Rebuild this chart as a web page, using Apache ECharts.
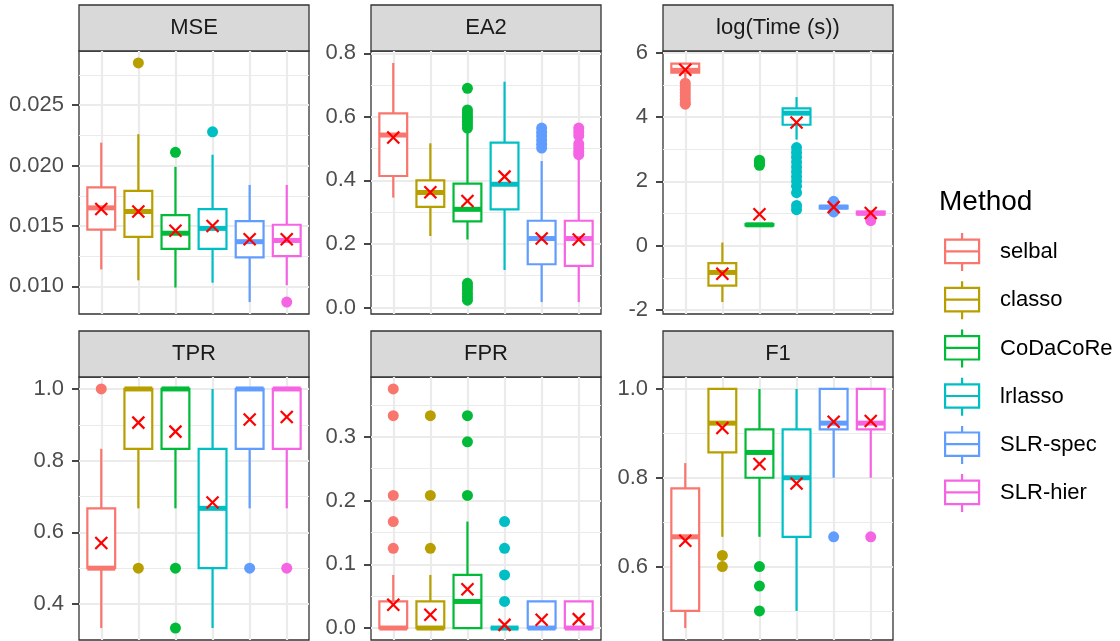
<!DOCTYPE html>
<html>
<head>
<meta charset="utf-8">
<script src="https://cdn.jsdelivr.net/npm/echarts@6/dist/echarts.min.js"></script>
<style>
html, body { margin: 0; padding: 0; background: #fff; }
#main { width: 1120px; height: 641px; }
</style>
</head>
<body>
<div id="main"></div>
<script>
const methods = ['selbal', 'classo', 'CoDaCoRe', 'lrlasso', 'SLR-spec', 'SLR-hier'];
const colors = ['#F8766D', '#B79F00', '#00BA38', '#00BFC4', '#619CFF', '#F564E3'];
const metrics = ['MSE', 'EA2', 'log(Time (s))', 'TPR', 'FPR', 'F1'];

// boxes: [lower whisker, Q1, median, Q3, upper whisker], one per method
const mseBox = [
  [0.0114, 0.0147, 0.0165, 0.0182, 0.0219],
  [0.0105, 0.0141, 0.0162, 0.0179, 0.0226],
  [0.0099, 0.0131, 0.0144, 0.0159, 0.0199],
  [0.0103, 0.0131, 0.0148, 0.0164, 0.0209],
  [0.0087, 0.0124, 0.0137, 0.0154, 0.0184],
  [0.0101, 0.0125, 0.0138, 0.0151, 0.0184]
];
const mseMean = [0.0164, 0.0162, 0.0146, 0.0150, 0.0139, 0.0139];
const mseOut = [[], [0.0285], [0.0211], [0.0228], [], [0.0087]];
const mseTicks = [0.010, 0.015, 0.020, 0.025];
const mseMinor = [0.0125, 0.0175, 0.0225, 0.0275];

const ea2Box = [
  [0.346, 0.414, 0.543, 0.611, 0.770],
  [0.225, 0.317, 0.362, 0.400, 0.517],
  [0.214, 0.271, 0.309, 0.390, 0.555],
  [0.118, 0.309, 0.388, 0.519, 0.711],
  [0.017, 0.136, 0.217, 0.273, 0.461],
  [0.017, 0.131, 0.217, 0.273, 0.466]
];
const ea2Mean = [0.535, 0.363, 0.335, 0.412, 0.217, 0.214];
const ea2Out = [
  [], [],
  [0.690, 0.622, 0.612, 0.603, 0.595, 0.585, 0.575, 0.565, 0.076, 0.066, 0.056, 0.044, 0.033, 0.023],
  [],
  [0.565, 0.552, 0.540, 0.527, 0.514, 0.502],
  [0.565, 0.553, 0.541, 0.515, 0.503, 0.491, 0.481]
];
const ea2Ticks = [0.0, 0.2, 0.4, 0.6, 0.8];
const ea2Minor = [0.1, 0.3, 0.5, 0.7];

const timeBox = [
  [5.20, 5.38, 5.45, 5.66, 5.68],
  [-1.75, -1.24, -0.83, -0.54, 0.10],
  [0.60, 0.63, 0.65, 0.67, 0.70],
  [3.30, 3.76, 4.12, 4.27, 4.62],
  [1.12, 1.16, 1.20, 1.24, 1.28],
  [0.95, 0.97, 1.01, 1.06, 1.10]
];
const timeMean = [5.47, -0.87, 0.98, 3.83, 1.20, 1.02];
const timeOut = [
  [5.05, 4.95, 4.85, 4.75, 4.65, 4.55, 4.45, 4.40],
  [],
  [2.66, 2.60, 2.55, 2.50],
  [3.05, 2.90, 2.75, 2.60, 2.45, 2.30, 2.15, 2.00, 1.85, 1.65, 1.25, 1.12],
  [1.38, 1.05],
  [0.78]
];
const timeTicks = [-2, 0, 2, 4, 6];
const timeMinor = [-1, 1, 3, 5];

const tprBox = [
  [0.333, 0.5, 0.5, 0.667, 0.833],
  [0.667, 0.833, 1.0, 1.0, 1.0],
  [0.667, 0.833, 1.0, 1.0, 1.0],
  [0.333, 0.5, 0.667, 0.833, 1.0],
  [0.667, 0.833, 1.0, 1.0, 1.0],
  [0.667, 0.833, 1.0, 1.0, 1.0]
];
const tprMean = [0.570, 0.906, 0.881, 0.683, 0.915, 0.922];
const tprOut = [[1.0], [0.5], [0.5, 0.333], [], [0.5], [0.5]];
const tprTicks = [0.4, 0.6, 0.8, 1.0];
const tprMinor = [0.5, 0.7, 0.9];

const fprBox = [
  [0, 0, 0, 0.0417, 0.0833],
  [0, 0, 0, 0.0417, 0.0833],
  [0, 0, 0.0417, 0.0833, 0.167],
  [0, 0, 0, 0, 0],
  [0, 0, 0, 0.0417, 0.0417],
  [0, 0, 0, 0.0417, 0.0417]
];
const fprMean = [0.0365, 0.021, 0.061, 0.005, 0.013, 0.014];
const fprOut = [
  [0.375, 0.333, 0.208, 0.167, 0.125],
  [0.333, 0.208, 0.125],
  [0.333, 0.292, 0.208],
  [0.167, 0.125, 0.0833, 0.0417],
  [], []
];
const fprTicks = [0.0, 0.1, 0.2, 0.3];
const fprMinor = [0.05, 0.15, 0.25, 0.35];

const f1Box = [
  [0.4615, 0.5, 0.667, 0.776, 0.833],
  [0.667, 0.857, 0.923, 1.0, 1.0],
  [0.667, 0.8, 0.857, 0.909, 1.0],
  [0.5, 0.667, 0.8, 0.909, 1.0],
  [0.8, 0.909, 0.923, 1.0, 1.0],
  [0.8, 0.909, 0.923, 1.0, 1.0]
];
const f1Mean = [0.658, 0.912, 0.831, 0.787, 0.926, 0.928];
const f1Out = [[], [0.625, 0.6], [0.6, 0.556, 0.5], [], [0.667], [0.667]];
const f1Ticks = [0.6, 0.8, 1.0];
const f1Minor = [0.5, 0.7, 0.9];

const panels = [
  { box: mseBox, mean: mseMean, out: mseOut, ticks: mseTicks, minor: mseMinor, digits: 3 },
  { box: ea2Box, mean: ea2Mean, out: ea2Out, ticks: ea2Ticks, minor: ea2Minor, digits: 1 },
  { box: timeBox, mean: timeMean, out: timeOut, ticks: timeTicks, minor: timeMinor, digits: 0 },
  { box: tprBox, mean: tprMean, out: tprOut, ticks: tprTicks, minor: tprMinor, digits: 1 },
  { box: fprBox, mean: fprMean, out: fprOut, ticks: fprTicks, minor: fprMinor, digits: 1 },
  { box: f1Box, mean: f1Mean, out: f1Out, ticks: f1Ticks, minor: f1Minor, digits: 1 }
];

// layout (px)
const panelLeft = [79, 371, 663, 79, 371, 663];
const panelTop = [51, 51, 51, 377, 377, 377];
const PW = 230, PH = 263, STRIP = 46;
const FONT = "'Liberation Sans', Arial, sans-serif";
const LW = 2.2;

// ggplot-like 5% expansion of the data range
function yRange(p) {
  let lo = Infinity, hi = -Infinity;
  p.box.forEach(b => { lo = Math.min(lo, b[0]); hi = Math.max(hi, b[4]); });
  p.out.forEach(o => o.forEach(v => { lo = Math.min(lo, v); hi = Math.max(hi, v); }));
  const pad = (hi - lo) * 0.05;
  return [lo - pad, hi + pad];
}

function renderBox(params, api) {
  const x = api.value(0);
  const c = colors[x - 1];
  const half = api.size([0.75, 0])[0] / 2;
  const pt = [1, 2, 3, 4, 5].map(k => api.coord([x, api.value(k)]));
  const cx = pt[0][0];
  return {
    type: 'group',
    children: [
      { type: 'line', shape: { x1: cx, y1: pt[0][1], x2: cx, y2: pt[1][1] }, style: { stroke: c, lineWidth: LW } },
      { type: 'line', shape: { x1: cx, y1: pt[3][1], x2: cx, y2: pt[4][1] }, style: { stroke: c, lineWidth: LW } },
      { type: 'rect', shape: { x: cx - half, y: pt[3][1], width: half * 2, height: pt[1][1] - pt[3][1] },
        style: { fill: '#fff', stroke: c, lineWidth: LW } },
      { type: 'line', shape: { x1: cx - half, y1: pt[2][1], x2: cx + half, y2: pt[2][1] }, style: { stroke: c, lineWidth: 5 } }
    ]
  };
}

function renderMean(params, api) {
  const pt = api.coord([api.value(0), api.value(1)]);
  const h = 6;
  return {
    type: 'group',
    children: [
      { type: 'line', shape: { x1: pt[0] - h, y1: pt[1] - h, x2: pt[0] + h, y2: pt[1] + h }, style: { stroke: '#FF0000', lineWidth: LW } },
      { type: 'line', shape: { x1: pt[0] - h, y1: pt[1] + h, x2: pt[0] + h, y2: pt[1] - h }, style: { stroke: '#FF0000', lineWidth: LW } }
    ]
  };
}

const grid = [], xAxis = [], yAxis = [], series = [], graphic = [];
const gridLine = { color: '#EBEBEB', width: 2.2 };

panels.forEach((p, i) => {
  const r = yRange(p);
  grid.push({
    left: panelLeft[i], top: panelTop[i], width: PW, height: PH,
    show: true, backgroundColor: '#fff', borderColor: '#333333', borderWidth: 1.3,
    containLabel: false, outerBoundsMode: 'none'
  });
  xAxis.push({
    gridIndex: i, type: 'value', min: 0.4, max: 6.6,
    axisLine: { show: false, onZero: false },
    axisTick: { show: false, customValues: [1, 2, 3, 4, 5, 6] },
    axisLabel: { show: false },
    splitLine: { show: true, lineStyle: gridLine }
  });
  // major axis with labels
  yAxis.push({
    gridIndex: i, type: 'value', min: r[0], max: r[1],
    axisLine: { show: false, onZero: false },
    axisTick: { show: true, length: 7, customValues: p.ticks, lineStyle: { color: '#333333', width: 1.8 } },
    axisLabel: {
      customValues: p.ticks, margin: 15, fontSize: 22, color: '#4D4D4D', fontFamily: FONT,
      formatter: v => Number(v).toFixed(p.digits)
    },
    splitLine: { show: true, lineStyle: gridLine }
  });
  // minor grid lines
  yAxis.push({
    gridIndex: i, type: 'value', min: r[0], max: r[1], position: 'left',
    axisLine: { show: false, onZero: false },
    axisTick: { show: false, customValues: p.minor },
    axisLabel: { show: false },
    splitLine: { show: true, lineStyle: { color: '#EBEBEB', width: 1.1 } }
  });

  methods.forEach((m, j) => {
    series.push({
      name: m, type: 'scatter', xAxisIndex: i, yAxisIndex: 2 * i, z: 2,
      symbolSize: 11, itemStyle: { color: colors[j], opacity: 1 },
      data: p.out[j].map(v => [j + 1, v])
    });
    series.push({
      name: m, type: 'custom', xAxisIndex: i, yAxisIndex: 2 * i, z: 3,
      itemStyle: { color: '#fff', borderColor: colors[j], borderWidth: LW },
      encode: { x: 0, y: [1, 2, 3, 4, 5] },
      renderItem: renderBox,
      data: [[j + 1].concat(p.box[j])]
    });
  });
  series.push({
    name: 'mean', type: 'custom', xAxisIndex: i, yAxisIndex: 2 * i, z: 4,
    encode: { x: 0, y: 1 },
    renderItem: renderMean,
    data: p.mean.map((v, j) => [j + 1, v])
  });

  // facet strip
  graphic.push({
    type: 'rect', silent: true,
    shape: { x: panelLeft[i], y: panelTop[i] - STRIP, width: PW, height: STRIP },
    style: { fill: '#D9D9D9', stroke: '#333333', lineWidth: 1.3 }
  });
  graphic.push({
    type: 'text', silent: true,
    x: panelLeft[i] + PW / 2, y: panelTop[i] - STRIP / 2,
    style: { text: metrics[i], fontSize: 22, fontFamily: FONT, fill: '#1A1A1A', align: 'center', verticalAlign: 'middle' }
  });
});

graphic.push({
  type: 'text', silent: true, x: 939, y: 202,
  style: { text: 'Method', fontSize: 28, fontFamily: FONT, fill: '#000', align: 'left', verticalAlign: 'middle' }
});

const chart = echarts.init(document.getElementById('main'), null, { renderer: 'canvas' });
chart.setOption({
  animation: false,
  backgroundColor: '#fff',
  grid: grid,
  xAxis: xAxis,
  yAxis: yAxis,
  legend: {
    orient: 'vertical', left: 944, top: 232, padding: 0,
    itemWidth: 34, itemHeight: 38, itemGap: 8,
    selectedMode: false,
    icon: 'path://M17,0L17,6.6M0,6.6L34,6.6L34,30L0,30ZM0,18.3L34,18.3M17,30L17,38',
    textStyle: { fontSize: 22, color: '#000', fontFamily: FONT, padding: [0, 0, 0, 16] },
    data: methods.map((m, j) => ({
      name: m,
      itemStyle: { color: '#fff', borderColor: colors[j], borderWidth: LW }
    }))
  },
  graphic: graphic,
  series: series
});
</script>
</body>
</html>
